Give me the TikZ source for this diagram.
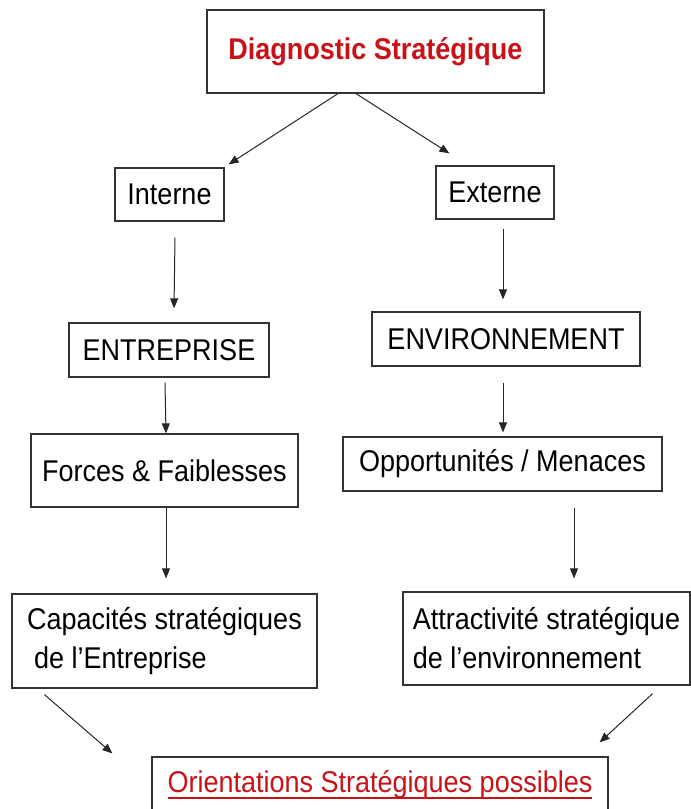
\documentclass[tikz,border=0pt]{standalone}
\usepackage{fontspec}
\setmainfont[FakeStretch=0.9]{Liberation Sans}
\usepackage{tikz}
\usetikzlibrary{arrows.meta}
\definecolor{diagred}{RGB}{200,18,24}
\newcommand{\strokeunder}[1]{\setbox0\hbox{#1}\rlap{\rule[-6pt]{\wd0}{1.6pt}}\box0}
\tikzstyle{box} = [draw=black!80, line width=1.2pt, inner sep=0pt, font=\fontsize{30}{39}\selectfont]
\tikzstyle{title} = [box, text=diagred, font=\fontsize{30}{39}\selectfont\bfseries]
\tikzstyle{arrow} = [-{Triangle[length=10pt,width=8pt]}, line width=1pt, black!85]

\begin{document}
\begin{tikzpicture}[x=1pt, y=-1pt]
	\clip (0, 0) rectangle (691, 809);
	\node[title, minimum width=337pt, minimum height=83pt](diag) at (375.5, 51.5){Diagnostic Stratégique};
	\node[box, minimum width=109pt, minimum height=53pt](int) at (169.5, 194.5){Interne};
	\node[box, minimum width=118pt, minimum height=53pt](ext) at (495, 192.5){Externe};
	\node[box, minimum width=200pt, minimum height=54pt](ent) at (169, 350){ENTREPRISE};
	\node[box, minimum width=268pt, minimum height=54pt](env) at (506, 339){ENVIRONNEMENT};
	\node[box, minimum width=267pt, minimum height=73pt](forces) at (164.5, 470.5){Forces \& Faiblesses};
	\node[box, minimum width=319pt, minimum height=54pt](opp) at (502.5, 464){Opportunités / Menaces};
	\node[box, align=left, minimum width=305pt, minimum height=94pt](cap) at (164.5, 641){Capacités stratégiques\\\hspace*{7pt}de l’Entreprise};
	\node[box, align=left, minimum width=287pt, minimum height=93pt](attr) at (546.5, 638.5){Attractivité stratégique\\de l’environnement};
	\node[box, text=diagred, minimum width=456pt, minimum height=56pt](orient) at (380, 785){\strokeunder{Orientations Stratégiques possibles}};
	
	% diagnostic
	\draw[arrow]([xshift=-37.5pt]diag.south) -- ([shift={(4,-3)}]int.north east);
	\draw[arrow]([xshift=-19.5pt]diag.south) -- ([shift={(14,-12)}]ext.north west);
	% interne
	\draw[arrow]([shift={(5.5,16)}]int.south) -- ([shift={(5,-14)}]ent.north);
	\draw[arrow]([shift={(-4,5)}]ent.south) -- ([shift={(1.5,0)}]forces.north);
	\draw[arrow]([shift={(1.5,0)}]forces.south) -- ([shift={(1.5,-15)}]cap.north);
	% externe
	\draw[arrow]([shift={(8,9)}]ext.south) -- ([shift={(-3,-12)}]env.north);
	\draw[arrow]([shift={(-3,16)}]env.south) -- ([shift={(0.5,-4)}]opp.north);
	\draw[arrow]([shift={(71.5,16)}]opp.south) -- ([shift={(27.5,-13)}]attr.north);
	% orientations
	\draw[arrow]([shift={(33,6)}]cap.south west) -- ([shift={(-39,-3)}]orient.north west);
	\draw[arrow]([shift={(-38,8)}]attr.south east) -- ([shift={(-9,-14)}]orient.north east);
\end{tikzpicture}
\end{document}
